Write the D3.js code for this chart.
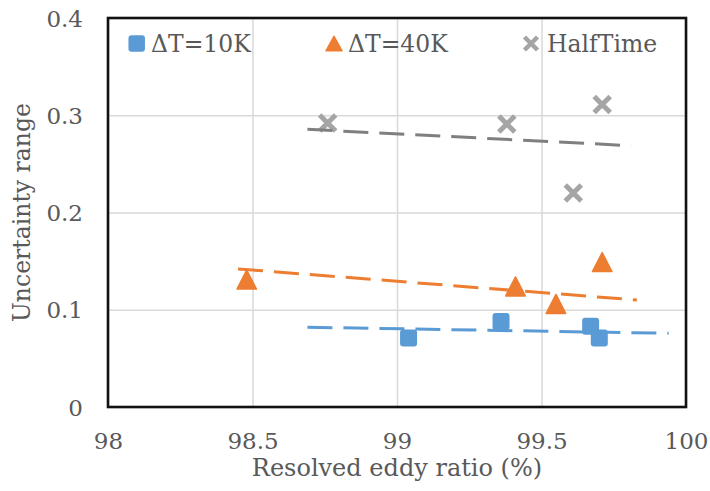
<!DOCTYPE html>
<html>
<head>
<meta charset="utf-8">
<script src="https://cdn.jsdelivr.net/npm/d3@7"></script>
<style>
  html, body { margin: 0; padding: 0; background: #fff; }
  svg { display: block; }
</style>
</head>
<body>
<svg id="chart" width="710" height="491"></svg>
<script>
// ---------------- data ----------------
const seriesNames = ["ΔT=10K", "ΔT=40K", "HalfTime"];

const dT10_x = [99.04, 99.36, 99.67, 99.70];
const dT10_y = [0.071, 0.088, 0.083, 0.071];

const dT40_x = [98.48, 99.41, 99.55, 99.71];
const dT40_y = [0.131, 0.124, 0.106, 0.149];

const half_x = [98.76, 99.38, 99.71, 99.61];
const half_y = [0.292, 0.291, 0.311, 0.220];

// trend lines (start x, end x) and (start y, end y)
const dT10_trend_x = [98.69, 99.94];
const dT10_trend_y = [0.082, 0.0758];
const dT40_trend_x = [98.45, 99.83];
const dT40_trend_y = [0.142, 0.110];
const half_trend_x = [98.69, 99.81];
const half_trend_y = [0.2855, 0.2687];

const xTicks = [98, 98.5, 99, 99.5, 100];
const xTickLabels = ["98", "98.5", "99", "99.5", "100"];
const yTicks = [0, 0.1, 0.2, 0.3, 0.4];
const yTickLabels = ["0", "0.1", "0.2", "0.3", "0.4"];

const xTitle = "Resolved eddy ratio (%)";
const yTitle = "Uncertainty range";

// ---------------- layout ----------------
const W = 710, H = 491;
const L = 108, R = 686, T = 18, B = 407;
const FONT = "'DejaVu Serif', serif";
const TXT = "#595959";
const BLUE = "#5b9bd5", ORANGE = "#ed7d31", GRAY = "#a5a5a5", GRAYLINE = "#7f7f7f";

const svg = d3.select("#chart");
svg.append("rect").attr("width", W).attr("height", H).attr("fill", "#fff");

const x = d3.scaleLinear().domain([98, 100]).range([L, R]);
const y = d3.scaleLinear().domain([0, 0.4]).range([B, T]);

// gridlines
const grid = svg.append("g");
grid.append("g")
  .attr("transform", `translate(0,${B})`)
  .call(d3.axisBottom(x).tickValues(xTicks).tickSize(-(B - T)).tickFormat(""))
  .call(g => g.select(".domain").remove())
  .call(g => g.selectAll("line").attr("stroke", "#d9d9d9").attr("stroke-width", 1.5));
grid.append("g")
  .attr("transform", `translate(${L},0)`)
  .call(d3.axisLeft(y).tickValues(yTicks).tickSize(-(R - L)).tickFormat(""))
  .call(g => g.select(".domain").remove())
  .call(g => g.selectAll("line").attr("stroke", "#d9d9d9").attr("stroke-width", 1.5));

// tick labels
svg.append("g")
  .attr("transform", `translate(0,${B})`)
  .call(d3.axisBottom(x).tickValues(xTicks).tickSize(0).tickPadding(0)
        .tickFormat((d, i) => xTickLabels[i]))
  .call(g => g.select(".domain").remove())
  .call(g => g.selectAll("text")
    .attr("y", 34).attr("dy", "0.35em")
    .attr("font-family", FONT).attr("font-size", 23).attr("fill", TXT));

svg.append("g")
  .attr("transform", `translate(${L},0)`)
  .call(d3.axisLeft(y).tickValues(yTicks).tickSize(0).tickPadding(0)
        .tickFormat((d, i) => yTickLabels[i]))
  .call(g => g.select(".domain").remove())
  .call(g => g.selectAll("text")
    .attr("x", -25).attr("dy", "0.35em")
    .attr("font-family", FONT).attr("font-size", 23).attr("fill", TXT));

// axis titles
svg.append("text")
  .attr("x", (L + R) / 2).attr("y", 468).attr("dy", "0.35em")
  .attr("text-anchor", "middle")
  .attr("font-family", FONT).attr("font-size", 24).attr("fill", TXT)
  .text(xTitle);

svg.append("text")
  .attr("transform", `translate(22,${(T + B) / 2}) rotate(-90)`)
  .attr("dy", "0.35em")
  .attr("text-anchor", "middle")
  .attr("font-family", FONT).attr("font-size", 23.5).attr("fill", TXT)
  .text(yTitle);

// marker drawers
function square(g, cx, cy, s, color) {
  g.append("rect").attr("x", cx - s / 2).attr("y", cy - s / 2)
    .attr("width", s).attr("height", s).attr("rx", 3)
    .attr("fill", color);
}
function triangle(g, cx, cy, w, h, color) {
  g.append("path")
    .attr("d", `M${cx},${cy - h / 2} L${cx + w / 2},${cy + h / 2} L${cx - w / 2},${cy + h / 2} Z`)
    .attr("fill", color).attr("stroke", color).attr("stroke-width", 1.5)
    .attr("stroke-linejoin", "round");
}
function cross(g, cx, cy, s, color, sw) {
  const h = s / 2;
  g.append("path")
    .attr("d", `M${cx - h},${cy - h} L${cx + h},${cy + h} M${cx - h},${cy + h} L${cx + h},${cy - h}`)
    .attr("stroke", color).attr("stroke-width", sw).attr("fill", "none");
}

// markers
const marks = svg.append("g");
dT10_x.forEach((v, i) => square(marks, x(v), y(dT10_y[i]), 17, BLUE));
dT40_x.forEach((v, i) => triangle(marks, x(v), y(dT40_y[i]), 19.5, 19, ORANGE));
half_x.forEach((v, i) => cross(marks, x(v), y(half_y[i]), 16, GRAY, 5));

// trend lines
const line = d3.line().x(d => x(d[0])).y(d => y(d[1]));
const trends = [
  [dT10_trend_x, dT10_trend_y, BLUE],
  [dT40_trend_x, dT40_trend_y, ORANGE],
  [half_trend_x, half_trend_y, GRAYLINE]
];
trends.forEach(([xs, ys, c]) => {
  svg.append("path")
    .datum(xs.map((v, i) => [v, ys[i]]))
    .attr("d", line)
    .attr("fill", "none").attr("stroke", c).attr("stroke-width", 3)
    .attr("stroke-dasharray", "25,11");
});

// frame
svg.append("rect")
  .attr("x", L).attr("y", T).attr("width", R - L).attr("height", B - T)
  .attr("fill", "none").attr("stroke", "#111").attr("stroke-width", 2.6);

// legend
const leg = svg.append("g");
const legY = 43.5;
square(leg, 136.7, legY, 16.5, BLUE);
triangle(leg, 334, legY, 16, 14.5, ORANGE);
cross(leg, 531, legY, 13, GRAY, 4.5);
const legX = [151, 348, 547];
seriesNames.forEach((n, i) => {
  leg.append("text")
    .attr("x", legX[i]).attr("y", legY).attr("dy", "0.35em")
    .attr("font-family", FONT).attr("font-size", 23.5).attr("fill", TXT)
    .text(n);
});
</script>
</body>
</html>
